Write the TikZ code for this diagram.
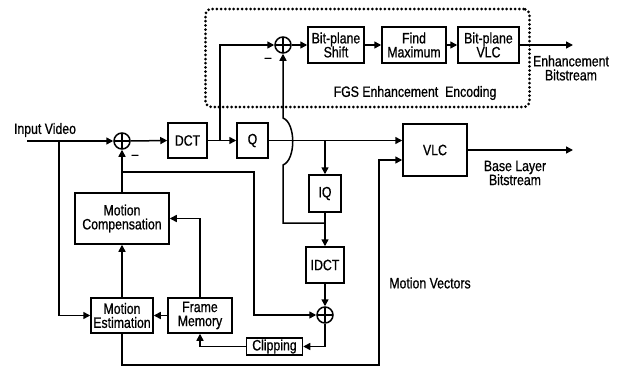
\documentclass[tikz,border=0pt]{standalone}
\usepackage{fontspec}
\setmainfont[FakeStretch=0.82,FakeBold=0.8]{Liberation Sans}
\usetikzlibrary{arrows.meta}
\begin{document}
\begin{tikzpicture}[x=1pt,y=-1pt,line width=1.5pt,
  every node/.style={font=\fontsize{15}{14}\selectfont},
  blk/.style={draw,align=center,inner sep=1pt},
  lbl/.style={align=center,inner sep=0pt},
  arr/.style={-{Triangle[length=7pt,width=7pt]}},
  sum/.style={circle,draw,minimum size=16pt,inner sep=0pt,
    path picture={\draw[line width=1.2pt] (path picture bounding box.north) -- (path picture bounding box.south)
      (path picture bounding box.west) -- (path picture bounding box.east);}},
  dotbox/.style={draw,line width=3pt,dash pattern=on 0pt off 4.2pt,line cap=round,rounded corners=6pt,inner sep=0pt}]
\useasboundingbox (0,0) rectangle (622,367);

% FGS dotted region
\node[dotbox,minimum width=324pt,minimum height=98pt] (fgs) at (367.5,58) {};
\node[lbl] (fgst) at (415,93) {FGS Enhancement\ \ Encoding};

% blocks
\node[sum] (add1) at (122,141) {};
\node[blk,minimum width=39pt,minimum height=35pt] (dct) at (187.5,140.5) {DCT};
\node[blk,minimum width=31pt,minimum height=35pt] (q) at (252.5,140.5) {Q};
\node[sum] (addT) at (283,45) {};
\node[blk,minimum width=56pt,minimum height=36pt] (bps) at (336,45) {Bit-plane\\Shift};
\node[blk,minimum width=64pt,minimum height=36pt] (fmx) at (414,45) {Find\\Maximum};
\node[blk,minimum width=61pt,minimum height=36pt] (bpv) at (488.5,45) {Bit-plane\\VLC};
\node[blk,minimum width=64pt,minimum height=52pt] (vlc) at (435,150) {VLC};
\node[blk,minimum width=32pt,minimum height=37pt] (iq) at (325,193.5) {IQ};
\node[blk,minimum width=38pt,minimum height=36pt] (idct) at (325,265) {IDCT};
\node[sum] (add3) at (325,315) {};
\node[blk,minimum width=56pt,minimum height=17pt,inner sep=0pt] (clip) at (274.5,346.5) {Clipping};
\node[blk,minimum width=64pt,minimum height=35pt] (fm) at (200,315.5) {Frame\\Memory};
\node[blk,minimum width=62pt,minimum height=35pt] (me) at (122,315.5) {Motion\\Estimation};
\node[blk,minimum width=94pt,minimum height=51pt] (mc) at (122,218.5) {Motion\\Compensation};

% labels
\node[lbl] (tin) at (45,130) {Input Video};
\node[lbl] (tenh) at (571,68) {Enhancement\\Bitstream};
\node[lbl] (tbase) at (515,173) {Base Layer\\Bitstream};
\node[lbl] (tmv) at (430,283) {Motion Vectors};
\node[lbl] (m1) at (135,157) {--};
\node[lbl] (m2) at (268,60) {--};

% coordinates
\coordinate (in) at (27,141);
\coordinate (jin) at (59,141);
\coordinate (jd) at (220,141);
\coordinate (jq) at (325,141);
\coordinate (ji) at (325,223);
\coordinate (hA) at (283,223);
\coordinate (hB) at (283,165);
\coordinate (hC) at (283,118);
\coordinate (eout) at (573,45);
\coordinate (bout) at (573,150);
\coordinate (mvA) at (122,365);
\coordinate (mvB) at (379,160);
\coordinate (jm) at (122,172);
\coordinate (jm2) at (254,172);

% connectors
\draw[arr] (in) -- (add1.west);
\draw[arr] (jin) |- (me.west);
\draw[arr] (add1.east) -- (dct.west);
\draw[arr] (dct.east) -- (q.west);
\draw[arr] (jd) |- (addT.west);
\draw[arr] (q.east) -- (q.east -| vlc.west);
\draw[arr] (jq) -- (iq.north);
\draw[arr] (iq.south) -- (idct.north);
\draw[arr] (ji) -- (hA) -- (hB) .. controls (296,160) and (296,123) .. (hC) -- (addT.south);
\draw[arr] (addT.east) -- (bps.west);
\draw[arr] (bps.east) -- (fmx.west);
\draw[arr] (fmx.east) -- (bpv.west);
\draw[arr] (bpv.east) -- (eout);
\draw[arr] (vlc.east) -- (bout);
\draw[arr] (me.south) -- (mvA) -| (mvB) -- (mvB -| vlc.west);
\draw[arr] (idct.south) -- (add3.north);
\draw[arr] (add3.south) |- (clip.east);
\draw[arr] (clip.west) -| (fm.south);
\draw[arr] (fm.north) |- (mc.east);
\draw[arr] (fm.west) -- (me.east);
\draw[arr] (me.north) -- (mc.south);
\draw (mc.north) -- (jm);
\draw[arr] (jm) -- (add1.south);
\draw[arr] (jm) -- (jm2) |- (add3.west);
\end{tikzpicture}
\end{document}
